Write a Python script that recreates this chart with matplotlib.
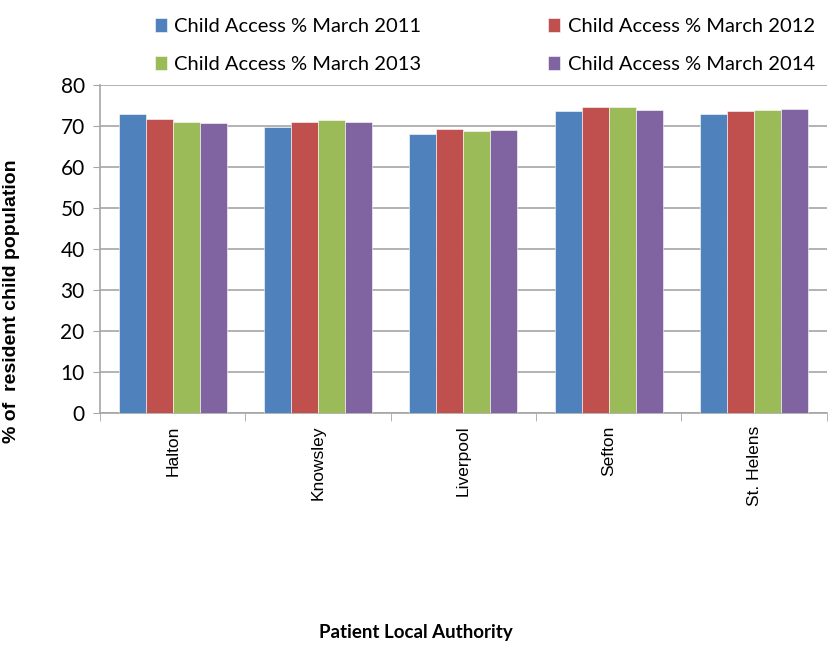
import numpy as np
import matplotlib.pyplot as plt

authorities = ['Halton', 'Knowsley', 'Liverpool', 'Sefton', 'St. Helens']
series_names = ['Child Access % March 2011', 'Child Access % March 2012',
                'Child Access % March 2013', 'Child Access % March 2014']
access_2011 = [72.9, 69.8, 68.0, 73.7, 72.9]
access_2012 = [71.6, 71.0, 69.3, 74.7, 73.7]
access_2013 = [71.0, 71.4, 68.8, 74.7, 73.9]
access_2014 = [70.8, 71.0, 69.0, 73.9, 74.1]
colors = ['#4F81BD', '#C0504D', '#9BBB59', '#8064A2']

plt.rcParams['font.family'] = ['Lato', 'DejaVu Sans']

fig = plt.figure(figsize=(8.31, 6.46), dpi=100)
ax = fig.add_axes([0.1203, 0.3607, 0.8747, 0.5077])

x = np.arange(len(authorities))
width = 0.186
all_series = [access_2011, access_2012, access_2013, access_2014]
bars = []
for i, vals in enumerate(all_series):
    b = ax.bar(x + (i - 1.5) * width, vals, width, color=colors[i],
               edgecolor='white', linewidth=0.4, label=series_names[i], zorder=3)
    bars.append(b)

ax.set_xlim(-0.5, len(authorities) - 0.5)
ax.set_ylim(0, 80)
ax.set_yticks(range(0, 81, 10))
ax.yaxis.grid(True, color='#A6A6A6', linewidth=1.2, zorder=0)
ax.tick_params(axis='y', labelsize=15, length=5, color='#A6A6A6', pad=6)

ax.set_xticks(x)
ax.set_xticklabels(authorities, rotation=90, fontsize=12.5,
                   family=['Liberation Sans', 'DejaVu Sans'])
ax.tick_params(axis='x', length=0, pad=9)
ax.set_xticks(np.arange(-0.5, len(authorities), 1), minor=True)
ax.tick_params(axis='x', which='minor', length=6, color='#A6A6A6')

for side in ['top', 'right']:
    ax.spines[side].set_visible(False)
ax.spines['left'].set_color('#A6A6A6')
ax.spines['bottom'].set_color('#A6A6A6')
ax.spines['left'].set_linewidth(1.2)
ax.spines['bottom'].set_linewidth(1.2)

ax.set_ylabel('% of  resident child population', fontsize=14, fontweight='bold',
              family=['Liberation Sans', 'DejaVu Sans'])
ax.yaxis.set_label_coords(-0.11, 0.34)
fig.text(0.5, 0.012, 'Patient Local Authority', ha='center', fontsize=13.5,
         fontweight='bold')

# legend filled row by row
order = [0, 2, 1, 3]
fig.legend([bars[i] for i in order], [series_names[i] for i in order],
           loc='upper left', bbox_to_anchor=(0.165, 1.0), ncol=2, frameon=False,
           fontsize=14.5, handlelength=0.6, handleheight=0.7, handletextpad=0.35,
           columnspacing=6.3, labelspacing=1.05)

fig.savefig('out.png', dpi=100)
